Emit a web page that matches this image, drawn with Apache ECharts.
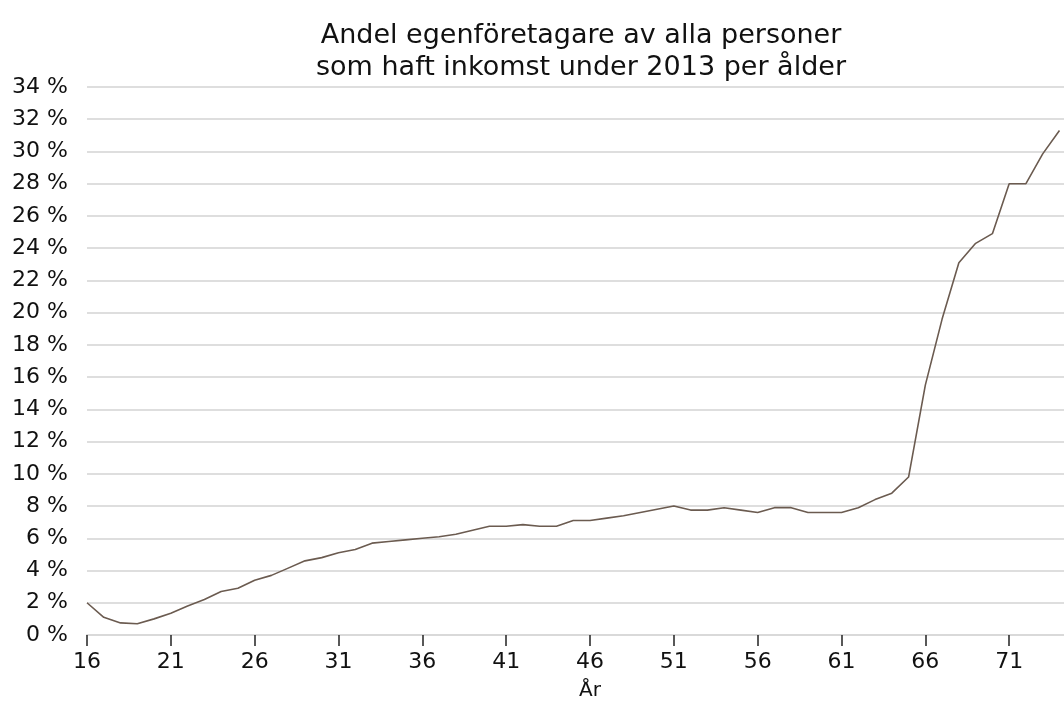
<!DOCTYPE html>
<html>
<head>
<meta charset="utf-8">
<script src="https://cdn.jsdelivr.net/npm/echarts@6/dist/echarts.min.js"></script>
<style>
  html, body { margin: 0; padding: 0; background: #fff; }
  #chart { width: 1064px; height: 708px; }
</style>
</head>
<body>
<div id="chart"></div>
<script>
{
    // ålder 16..76 (the picture is cut off after about 74)
    const ages = [];
    for (let a = 16; a <= 76; a++) ages.push(String(a));

    // andel egenföretagare, procent, ålder 16..74
    const share = [
        2.0, 1.1, 0.75, 0.7, 1.0, 1.35, 1.8, 2.2, 2.7, 2.9,
        3.4, 3.7, 4.15, 4.6, 4.8, 5.1, 5.3, 5.7, 5.8, 5.9,
        6.0, 6.1, 6.25, 6.5, 6.75, 6.75, 6.85, 6.75, 6.75, 7.1,
        7.1, 7.25, 7.4, 7.6, 7.8, 8.0, 7.75, 7.75, 7.9, 7.75,
        7.6, 7.9, 7.9, 7.6, 7.6, 7.6, 7.9, 8.4, 8.8, 9.8,
        15.5, 19.6, 23.1, 24.3, 24.9, 28.0, 28.0, 29.85, 31.3
    ];

    const titleText = 'Andel egenföretagare av alla personer\nsom haft inkomst under 2013 per ålder';

    var dom = document.querySelector('#chart');
    var myChart = echarts.init(dom, null, { renderer: 'canvas' });
    const font = 'DejaVu Sans';
    const option = {
        animation: false,
        title: {
            text: titleText,
            left: 576,
            top: 15,
            textAlign: 'center',
            textStyle: {
                fontFamily: font,
                fontSize: 27,
                fontWeight: 'normal',
                color: '#111',
                lineHeight: 32
            }
        },
        grid: {
            left: 87,
            right: -29,
            top: 87,
            bottom: 73,
            containLabel: false,
            outerBoundsMode: 'none'
        },
        xAxis: {
            type: 'category',
            data: ages,
            boundaryGap: false,
            name: 'År',
            nameLocation: 'middle',
            nameGap: 46,
            nameTextStyle: { fontFamily: font, fontSize: 20, color: '#111' },
            axisLine: { lineStyle: { color: '#d9d9d9', width: 2 } },
            axisTick: { interval: 4, length: 11, lineStyle: { color: '#222', width: 1.5 } },
            axisLabel: { interval: 4, fontFamily: font, fontSize: 22, color: '#111', margin: 16 },
            splitLine: { show: false }
        },
        yAxis: {
            type: 'value',
            min: 0,
            max: 34,
            interval: 2,
            axisLine: { show: false },
            axisTick: { show: false },
            axisLabel: {
                fontFamily: font, fontSize: 22, color: '#111', margin: 19,
                formatter: '{value} %'
            },
            splitLine: { lineStyle: { color: '#dedede', width: 2 } }
        },
        series: [
            {
                type: 'line',
                data: share,
                showSymbol: false,
                smooth: false,
                lineStyle: { color: '#6b5b50', width: 1.6 }
            }
        ]
    };
    myChart.setOption(option);
}
</script>
</body>
</html>
